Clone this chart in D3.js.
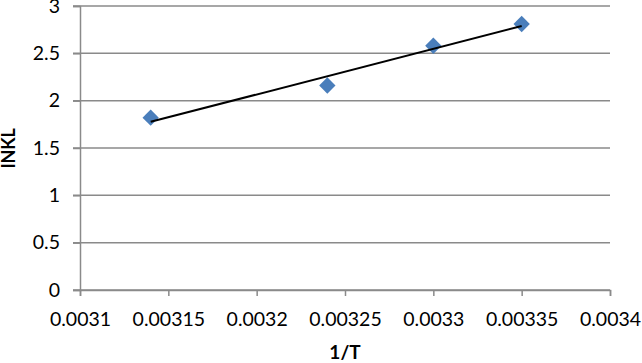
<!DOCTYPE html>
<html>
<head>
<meta charset="utf-8">
<script src="https://cdn.jsdelivr.net/npm/d3@7"></script>
<style>
  body { margin: 0; background: #fff; }
  svg text { font-family: Lato, "Open Sans", sans-serif; }
</style>
</head>
<body>
<div id="chart"></div>
<script>
// 1/T values and ln K values
let invT = [0.00314, 0.00324, 0.0033, 0.00335];
let lnK = [1.82, 2.16, 2.58, 2.81];

let xTicks = [0.0031, 0.00315, 0.0032, 0.00325, 0.0033, 0.00335, 0.0034];
let yTicks = [0, 0.5, 1, 1.5, 2, 2.5, 3];

let width = 642,
  height = 363;
let margin = {top: 6, right: 32, bottom: 73, left: 80};

let x = d3.scaleLinear()
  .domain([0.0031, 0.0034])
  .range([margin.left, width - margin.right]);

let y = d3.scaleLinear()
  .domain([0, 3])
  .range([height - margin.bottom, margin.top]);

// least squares trendline over the points
function fit(xs, ys) {
  const mx = d3.mean(xs), my = d3.mean(ys);
  let sxy = 0, sxx = 0;
  xs.forEach((v, i) => {
    sxy += (v - mx) * (ys[i] - my);
    sxx += (v - mx) * (v - mx);
  });
  const b = sxy / sxx;
  return v => my + b * (v - mx);
}

function chart() {
  const data = invT.map((v, i) => ({x: v, y: lnK[i]}));
  const line = fit(invT, lnK);

  const svg = d3.select('#chart').append('svg')
    .attr('width', width)
    .attr('height', height);

  const gridColor = '#8a8a8a';

  // horizontal grid lines (with the little ticks to the left)
  svg.append('g')
    .selectAll('line')
    .data(yTicks)
    .enter().append('line')
      .attr('x1', margin.left - 7)
      .attr('x2', width - margin.right)
      .attr('y1', d => y(d))
      .attr('y2', d => y(d))
      .attr('stroke', gridColor)
      .attr('stroke-width', 1.5);

  // y axis
  const yAxis = svg.append('g')
    .attr('transform', `translate(${margin.left},0)`)
    .call(d3.axisLeft(y).tickValues(yTicks).tickSize(7).tickFormat(d3.format('')));
  yAxis.select('.domain').attr('stroke', gridColor).attr('stroke-width', 1.5);
  yAxis.selectAll('.tick line').attr('stroke', gridColor).attr('stroke-width', 1.5);
  yAxis.selectAll('.tick text')
    .attr('x', -20)
    .attr('fill', '#000')
    .style('font-size', '19.5px');

  // x axis
  const xAxis = svg.append('g')
    .attr('transform', `translate(0,${height - margin.bottom})`)
    .call(d3.axisBottom(x).tickValues(xTicks).tickSize(6).tickFormat(d => String(+d.toFixed(5))));
  xAxis.select('.domain').attr('stroke', gridColor).attr('stroke-width', 1.5);
  xAxis.selectAll('.tick line').attr('stroke', gridColor).attr('stroke-width', 1.5);
  xAxis.selectAll('.tick text')
    .attr('y', 22)
    .attr('fill', '#000')
    .style('font-size', '19.5px');

  // diamond markers
  const sym = d3.symbol().type(d3.symbolDiamond2).size(170);
  svg.append('g')
    .selectAll('path')
    .data(data)
    .enter().append('path')
      .attr('transform', d => `translate(${x(d.x)},${y(d.y)})`)
      .attr('d', sym)
      .attr('fill', '#4a7ebb');

  // trendline, drawn over the markers as in the picture
  const x0 = d3.min(invT), x1 = d3.max(invT);
  svg.append('line')
    .attr('x1', x(x0))
    .attr('y1', y(line(x0)))
    .attr('x2', x(x1))
    .attr('y2', y(line(x1)))
    .attr('stroke', '#000')
    .attr('stroke-width', 2);

  // axis titles
  svg.append('text')
    .attr('x', (margin.left + width - margin.right) / 2)
    .attr('y', 359)
    .attr('text-anchor', 'middle')
    .style('font-size', '19px')
    .style('font-weight', 'bold')
    .text('1/T');

  svg.append('text')
    .attr('transform', `translate(15,148) rotate(-90)`)
    .attr('text-anchor', 'middle')
    .style('font-size', '18px')
    .style('font-weight', 'bold')
    .text('lNKL');

  return svg.node();
}

chart();
</script>
</body>
</html>
